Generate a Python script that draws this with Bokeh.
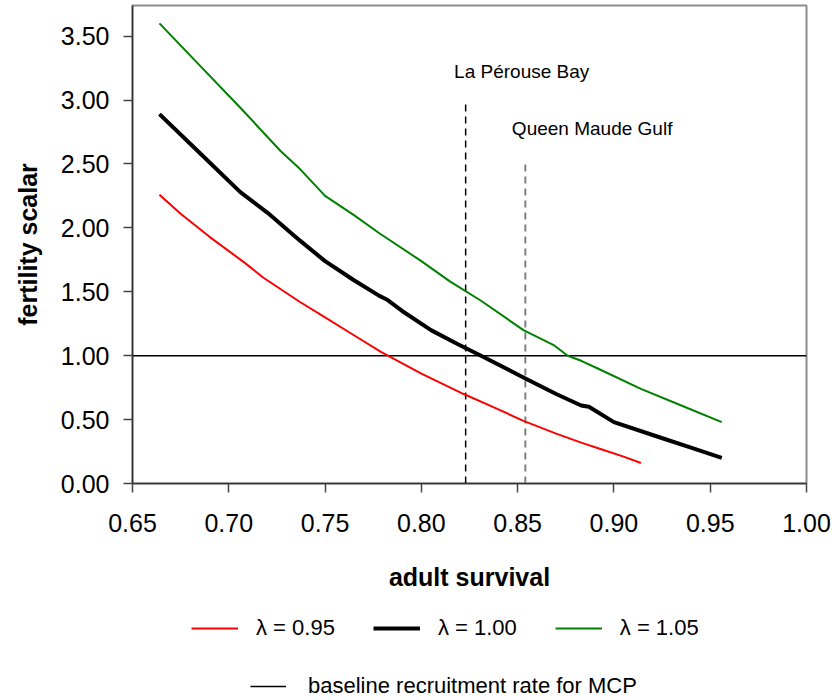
from bokeh.plotting import figure
from bokeh.layouts import column
from bokeh.models import Range1d, FixedTicker, NumeralTickFormatter, Legend, LegendItem, Label
from bokeh.embed import file_html
from bokeh.resources import INLINE

# ---- data ----
survival_095 = [0.664, 0.675, 0.690, 0.708, 0.718, 0.737, 0.750, 0.765, 0.779, 0.800,
                0.822, 0.840, 0.853, 0.870, 0.883, 0.893, 0.905, 0.914]
fert_095 = [2.26, 2.11, 1.93, 1.73, 1.61, 1.42, 1.30, 1.16, 1.03, 0.86,
            0.70, 0.58, 0.49, 0.39, 0.32, 0.27, 0.21, 0.16]

survival_100 = [0.664, 0.684, 0.706, 0.720, 0.737, 0.750, 0.765, 0.778, 0.782, 0.790,
                0.805, 0.819, 0.831, 0.853, 0.870, 0.883, 0.887, 0.900, 0.924, 0.940, 0.956]
fert_100 = [2.89, 2.60, 2.28, 2.12, 1.90, 1.74, 1.59, 1.47, 1.44, 1.35,
            1.20, 1.09, 1.00, 0.83, 0.70, 0.61, 0.60, 0.48, 0.36, 0.28, 0.20]

survival_105 = [0.664, 0.685, 0.706, 0.727, 0.737, 0.750, 0.765, 0.778, 0.800, 0.815,
                0.831, 0.853, 0.869, 0.876, 0.883, 0.893, 0.914, 0.935, 0.956]
fert_105 = [3.60, 3.27, 2.94, 2.60, 2.46, 2.25, 2.10, 1.96, 1.74, 1.58,
            1.43, 1.20, 1.08, 1.00, 0.96, 0.89, 0.74, 0.61, 0.48]

series_labels = ["λ = 0.95", "λ = 1.00", "λ = 1.05"]

site_names = ["La Pérouse Bay", "Queen Maude Gulf"]
site_survival = [0.823, 0.854]
site_top = [3.0, 2.5]

baseline_rate = 1.0
baseline_label = "baseline recruitment rate for MCP"

x_ticks = [0.65, 0.70, 0.75, 0.80, 0.85, 0.90, 0.95, 1.00]
y_ticks = [0.0, 0.5, 1.0, 1.5, 2.0, 2.5, 3.0, 3.5]
x_min, x_max = 0.65, 1.00
y_min, y_max = 0.0, 3.74

FONT = "Liberation Sans"
RED, BLACK, GREEN = "#ff0000", "black", "#008000"

# ---------------- main chart ----------------
p = figure(width=838, height=600, x_range=Range1d(x_min, x_max), y_range=Range1d(y_min, y_max),
           output_backend="svg", toolbar_location=None,
           min_border_left=132, min_border_right=32, min_border_top=5, min_border_bottom=117)

p.xgrid.grid_line_color = None
p.ygrid.grid_line_color = None
p.outline_line_color = "#8c8c8c"
p.outline_line_width = 2
p.background_fill_color = "white"
p.border_fill_color = "white"

# baseline
p.line(x=[x_min, x_max], y=[baseline_rate, baseline_rate], line_color="black", line_width=1.5)

# site lines
p.segment(x0=[site_survival[0]], y0=[0], x1=[site_survival[0]], y1=[site_top[0]],
          line_color="black", line_width=1.5, line_dash="7 5")
p.segment(x0=[site_survival[1]], y0=[0], x1=[site_survival[1]], y1=[site_top[1]],
          line_color="#808080", line_width=2, line_dash="7 5")

# curves
p.line(survival_095, fert_095, line_color=RED, line_width=2)
p.line(survival_100, fert_100, line_color=BLACK, line_width=4)
p.line(survival_105, fert_105, line_color=GREEN, line_width=2)

# site labels
label_dx = [-0.006, -0.007]
label_dy = [0.22, 0.28]
for name, sx, st, dx, dy in zip(site_names, site_survival, site_top, label_dx, label_dy):
    p.add_layout(Label(x=sx + dx, y=st + dy, text=name, text_font=FONT, text_font_size="19px",
                       text_baseline="middle", text_align="left", text_color="black"))

# axes
for ax in (p.xaxis[0], p.yaxis[0]):
    ax.major_label_text_font = FONT
    ax.major_label_text_font_size = "25px"
    ax.major_label_text_color = "black"
    ax.axis_label_text_font = FONT
    ax.axis_label_text_font_size = "25px"
    ax.axis_label_text_font_style = "bold"
    ax.axis_label_text_color = "black"
    ax.minor_tick_line_color = None
    ax.major_tick_in = 0
    ax.major_tick_out = 9
    ax.major_tick_line_color = "#444444"
    ax.major_tick_line_width = 1.5
    ax.axis_line_color = "#333333"
    ax.axis_line_width = 1.5
    ax.formatter = NumeralTickFormatter(format="0.00")

p.xaxis.ticker = FixedTicker(ticks=x_ticks)
p.yaxis.ticker = FixedTicker(ticks=y_ticks)
p.xaxis.axis_label = "adult survival"
p.yaxis.axis_label = "fertility scalar"
p.xaxis.major_label_standoff = 21
p.xaxis.axis_label_standoff = 28
p.yaxis.major_label_standoff = 14
p.yaxis.axis_label_standoff = 16

# ---------------- legend strip (frame aligned with the chart: 132..806) ----------------
lg = figure(width=838, height=100, x_range=Range1d(10, 20), y_range=Range1d(10, 20),
            output_backend="svg", toolbar_location=None,
            x_axis_location=None, y_axis_location=None,
            min_border_left=132, min_border_right=32, min_border_top=0, min_border_bottom=0)
lg.xgrid.grid_line_color = None
lg.ygrid.grid_line_color = None
lg.outline_line_color = None
lg.border_fill_color = "white"
lg.background_fill_color = "white"

# legend key renderers (same series; they fall outside this strip's ranges, so only the keys show)
k_red = lg.line(survival_095, fert_095, line_color=RED, line_width=2)
k_black = lg.line(survival_100, fert_100, line_color=BLACK, line_width=4)
k_green = lg.line(survival_105, fert_105, line_color=GREEN, line_width=2)
k_base = lg.line(x=[x_min, x_max], y=[baseline_rate, baseline_rate], line_color="black", line_width=1.5)

leg1 = Legend(items=[LegendItem(label=series_labels[0], renderers=[k_red]),
                     LegendItem(label=series_labels[1], renderers=[k_black]),
                     LegendItem(label=series_labels[2], renderers=[k_green])],
              orientation="horizontal", location=(59, 59),
              glyph_width=47, glyph_height=24, label_height=24, label_standoff=18, spacing=38,
              padding=0, margin=0, border_line_color=None, background_fill_alpha=0,
              label_text_font=FONT, label_text_font_size="22px", label_text_color="black")
leg2 = Legend(items=[LegendItem(label=baseline_label, renderers=[k_base])],
              orientation="horizontal", location=(118, 1),
              glyph_width=36, glyph_height=24, label_height=24, label_standoff=22,
              padding=0, margin=0, border_line_color=None, background_fill_alpha=0,
              label_text_font=FONT, label_text_font_size="22px", label_text_color="black")
lg.add_layout(leg1)
lg.add_layout(leg2)

layout = column(p, lg, spacing=0)
open("out.html", "w").write(file_html(layout, INLINE))
